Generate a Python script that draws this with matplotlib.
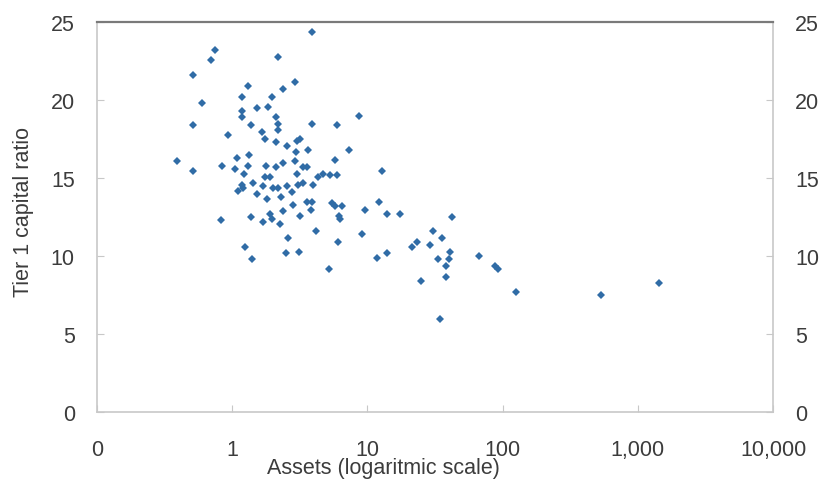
import matplotlib
matplotlib.use("Agg")
from matplotlib import pyplot as plt
from matplotlib import ticker

plt.rcParams['font.family'] = ['Liberation Sans', 'DejaVu Sans']

# bank assets (log scale) and tier 1 capital ratio, one entry per bank
assets = [
    0.39, 0.51, 0.51, 0.51, 0.60, 0.70, 0.75, 0.82, 0.84, 0.93,
    1.05, 1.09, 1.11, 1.19, 1.19, 1.19, 1.19, 1.21, 1.23, 1.25,
    1.31, 1.31, 1.34, 1.38, 1.38, 1.41, 1.43, 1.53, 1.53, 1.67,
    1.69, 1.69, 1.75, 1.75, 1.78, 1.81, 1.85, 1.91, 1.91, 1.98,
    1.98, 2.01, 2.11, 2.11, 2.11, 2.19, 2.19, 2.19, 2.19, 2.26,
    2.30, 2.38, 2.38, 2.38, 2.51, 2.55, 2.55, 2.59, 2.82, 2.78,
    2.92, 2.92, 2.97, 3.02, 3.02, 3.07, 3.13, 3.18, 3.18, 3.35,
    3.35, 3.58, 3.58, 3.65, 3.84, 3.90, 3.90, 3.90, 3.97, 4.18,
    4.32, 4.71, 5.21, 5.30, 5.48, 5.77, 5.77, 5.97, 5.97, 6.18,
    6.28, 6.07, 6.50, 7.33, 8.69, 9.14, 9.62, 11.8, 12.2, 12.8,
    14.0, 14.0, 17.5, 21.4, 23.3, 24.9, 29.1, 30.6, 33.3, 34.5,
    35.6, 38.2, 38.2, 40.2, 40.9, 42.3, 66.9, 87.9, 92.5, 126,
    533, 1432,
]
tier1_ratio = [
    16.1, 15.5, 21.6, 18.4, 19.8, 22.6, 23.2, 12.3, 15.8, 17.8,
    15.6, 16.3, 14.2, 14.6, 20.2, 19.3, 18.9, 14.4, 15.3, 10.6,
    20.9, 15.8, 16.5, 18.4, 12.5, 9.8, 14.7, 19.5, 14.0, 18.0,
    14.5, 12.2, 17.5, 15.1, 15.8, 13.7, 19.6, 15.1, 12.7, 20.2,
    12.4, 14.4, 18.9, 17.3, 15.7, 22.8, 18.5, 18.1, 14.4, 12.1,
    13.8, 20.7, 16.0, 12.9, 10.2, 17.1, 14.5, 11.2, 13.3, 14.1,
    21.2, 16.1, 16.7, 17.4, 15.3, 14.6, 10.3, 12.6, 17.5, 15.7,
    14.7, 15.7, 13.5, 16.8, 13.0, 24.4, 18.5, 13.5, 14.6, 11.6,
    15.1, 15.3, 9.2, 15.2, 13.4, 16.2, 13.2, 18.4, 15.2, 12.6,
    12.4, 10.9, 13.2, 16.8, 19.0, 11.4, 13.0, 9.9, 13.5, 15.5,
    12.7, 10.2, 12.7, 10.6, 10.9, 8.4, 10.7, 11.6, 9.8, 6.0,
    11.2, 9.4, 8.7, 9.8, 10.3, 12.5, 10.0, 9.4, 9.2, 7.7,
    7.5, 8.3,
]

x_ticks = [0.1, 1, 10, 100, 1000, 10000]
x_tick_labels = ['0', '1', '10', '100', '1,000', '10,000']
y_ticks = [0, 5, 10, 15, 20, 25]

fig = plt.figure(figsize=(8.23, 4.81), dpi=100)
ax = fig.add_axes([0.1179, 0.1407, 0.8214, 0.8108])

ax.plot(assets, tier1_ratio, linestyle='none', marker='D',
        markersize=4.4, color='#306ca6', markeredgewidth=0)

ax.set_xscale('log')
ax.set_xlim(0.1, 10000)
ax.set_ylim(0, 25)
ax.xaxis.set_major_locator(ticker.FixedLocator(x_ticks))
ax.xaxis.set_major_formatter(ticker.FixedFormatter(x_tick_labels))
ax.xaxis.set_minor_locator(ticker.NullLocator())
ax.set_yticks(y_ticks)

grey = '#c8c8c8'
text_grey = '#3c3c3c'
for side in ['left', 'right', 'bottom']:
    ax.spines[side].set_color(grey)
    ax.spines[side].set_linewidth(1.2)
ax.spines['top'].set_color('#7a7a7a')
ax.spines['top'].set_linewidth(1.6)

ax.tick_params(axis='y', which='both', direction='in', length=5,
               color=grey, labelsize=15.5, labelcolor=text_grey,
               left=True, right=True, labelleft=True, labelright=True,
               pad=16)
ax.tick_params(axis='x', direction='in', length=5, color=grey,
               labelsize=15.5, labelcolor=text_grey, pad=19)

fig.text(383 / 823, 1 - 469 / 481, 'Assets (logaritmic scale)',
         ha='center', va='center', fontsize=15.5, color=text_grey)
fig.text(24 / 823, 1 - 212 / 481, 'Tier 1 capital ratio', rotation=90,
         ha='center', va='center', fontsize=15.5, color=text_grey)

fig.savefig('out.png', dpi=100)
